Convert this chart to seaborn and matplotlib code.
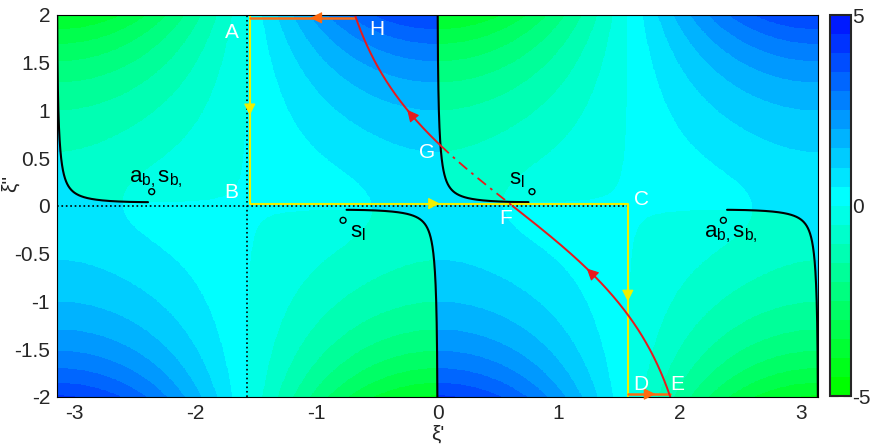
import numpy as np
import matplotlib
matplotlib.use("Agg")
import matplotlib.pyplot as plt
import seaborn as sns
from matplotlib.colors import ListedColormap, BoundaryNorm

sns.set_style("white")
plt.rcParams["font.family"] = ["Liberation Sans", "DejaVu Sans"]
plt.rcParams["mathtext.fontset"] = "custom"
plt.rcParams["mathtext.rm"] = "Liberation Sans"
plt.rcParams["mathtext.it"] = "Liberation Sans"
plt.rcParams["axes.unicode_minus"] = False

# ---------------- data ----------------
xi_lim = [-np.pi, np.pi]
eta_lim = [-2.0, 2.0]
n2_real = 0.53          # squared index ratio of the medium (branch points at cos(xi)=n)
n2_loss = 0.04          # small loss -> hyperbolic branch cuts
field_scale = 1.1       # scale of -Im(kz) shown in colour
saddle_xi = 0.62        # saddle point F on the real axis
cut_cross_eta = 0.63    # where the SDP crosses the branch cut (G)

x_ticks = [-3, -2, -1, 0, 1, 2, 3]
y_ticks = [-2, -1.5, -1, -0.5, 0, 0.5, 1, 1.5, 2]
y_tick_labels = ["-2", "-1.5", "-1", "-0.5", "0", "0.5", "1", "1.5", "2"]
cbar_ticks = [-5, 0, 5]
levels = np.arange(-5, 5.01, 0.5)

point_names = ["A", "B", "C", "D", "E", "F", "G", "H"]
point_x = [-1.70, -1.70, 1.68, 1.68, 1.98, 0.56, -0.085, -0.50]
point_y = [1.82, 0.14, 0.07, -1.87, -1.87, -0.13, 0.56, 1.85]

marker_x = [-2.36, 0.78, -0.78, 2.36]
marker_y = [0.15, 0.15, -0.15, -0.15]

label_texts = [r"a$_\mathregular{b,}$s$_\mathregular{b,}$", r"s$_\mathregular{l}$",
               r"s$_\mathregular{l}$", r"a$_\mathregular{b,}$s$_\mathregular{b,}$"]
label_x = [-2.55, 0.59, -0.72, 2.20]
label_y = [0.25, 0.23, -0.33, -0.33]

yellow_x = [-1.55, -1.55, 1.571, 1.571]
yellow_y = [2.0, 0.025, 0.025, -2.0]
orange_top_x = [-0.68, -1.55]
orange_top_y = [1.97, 1.97]
orange_bot_x = [1.571, 1.92]
orange_bot_y = [-1.97, -1.97]

yellow_arrow_x = [-1.55, 0.0, 1.571]
yellow_arrow_y = [0.97, 0.025, -0.98]
yellow_arrow_dir = [(0, -1), (1, 0), (0, -1)]
orange_arrow_x = [-1.03, 1.78]
orange_arrow_y = [1.97, -1.97]
orange_arrow_dir = [(-1, 0), (1, 0)]
red_arrow_eta = [0.99, -0.67]

# ---------------- field ----------------
xg = np.linspace(xi_lim[0], xi_lim[1], 1400)
yg = np.linspace(eta_lim[0], eta_lim[1], 900)
X, Y = np.meshgrid(xg, yg)
xi = X + 1j * Y
n2 = n2_real - 1j * n2_loss
kz = np.sqrt(n2 - np.cos(xi) ** 2)
field = np.clip(-field_scale * kz.imag, -4.999, 4.999)

# each band takes the colour of its lower level (green -> cyan -> blue)
cols = []
nb = len(levels) - 1
for i in range(nb):
    v = i / nb
    if v < 0.5:
        cols.append((0.0, 1.0, 2 * v))
    else:
        cols.append((0.0, 2 - 2 * v, 1.0))
cmap = ListedColormap(cols)
norm = BoundaryNorm(levels, cmap.N)

fig = plt.figure(figsize=(8.72, 4.46), dpi=100)
ax = fig.add_axes([0.0654, 0.1099, 0.8727, 0.8565])
cax = fig.add_axes([0.952, 0.112, 0.024, 0.854])

mesh = ax.pcolormesh(xg, yg, field, cmap=cmap, norm=norm, shading="nearest", rasterized=True)

# branch cuts
x_lo = 0.5 * np.arcsin(2 * n2_loss / np.sinh(4.0))
xc = np.geomspace(x_lo, 0.80, 800)
yc = 0.5 * np.arcsinh(2 * n2_loss / np.sin(2 * xc))
keep = (n2 - np.cos(xc + 1j * yc) ** 2).real < 0
xc, yc = xc[keep], yc[keep]
for cx, cy in [(xc, yc), (-xc, -yc), (xc - np.pi, yc), (np.pi - xc, -yc)]:
    sns.lineplot(x=cx, y=cy, ax=ax, sort=False, color="black", lw=1.5, estimator=None)

# dotted axes lines
ax.plot([-np.pi / 2, -np.pi / 2], [-2, 2], color="black", ls=":", lw=1.2)
ax.plot([-np.pi, np.pi / 2], [0, 0], color="black", ls=":", lw=1.2)

# yellow original path and orange closing segments
ax.plot(yellow_x, yellow_y, color="#f0f000", lw=1.5)
ax.plot(orange_top_x, orange_top_y, color="#ff6a10", lw=1.8)
ax.plot(orange_bot_x, orange_bot_y, color="#ff6a10", lw=1.8)

# steepest descent path
eta_s = np.linspace(2, -2, 1601)
xi_s = saddle_xi - np.sign(eta_s) * np.arccos(1 / np.cosh(eta_s))
m1 = eta_s >= cut_cross_eta
m2 = (eta_s <= cut_cross_eta) & (eta_s >= 0)
m3 = eta_s <= 0
ax.plot(xi_s[m1], eta_s[m1], color="#e8191c", lw=1.4)
ax.plot(xi_s[m2], eta_s[m2], color="#e8191c", lw=1.3, ls=(0, (6, 3, 1.5, 3)))
ax.plot(xi_s[m3], eta_s[m3], color="#e8191c", lw=1.4)


def head(x, y, dx, dy, color):
    ax.annotate("", xy=(x + dx * 0.02, y + dy * 0.02), xytext=(x - dx * 0.02, y - dy * 0.02),
                arrowprops=dict(arrowstyle="-|>,head_length=0.6,head_width=0.3",
                                color=color, lw=0.8, mutation_scale=12,
                                shrinkA=0, shrinkB=0))


for x, y, d in zip(yellow_arrow_x, yellow_arrow_y, yellow_arrow_dir):
    head(x, y, d[0], d[1], "#f0f000")
for x, y, d in zip(orange_arrow_x, orange_arrow_y, orange_arrow_dir):
    head(x, y, d[0], d[1], "#ff6a10")
for e in red_arrow_eta:
    i = np.argmin(np.abs(eta_s - e))
    x0, y0 = xi_s[i], eta_s[i]
    x1, y1 = xi_s[i - 8], eta_s[i - 8]
    d = np.array([x1 - x0, y1 - y0])
    d = d / np.hypot(*d)
    head(x0, y0, d[0], d[1], "#e8191c")

# markers and labels
sns.scatterplot(x=marker_x, y=marker_y, ax=ax, marker="o", s=18, facecolor="none",
                edgecolor="black", linewidth=1.0, zorder=5)
for t, x, y in zip(label_texts, label_x, label_y):
    ax.text(x, y, t, color="black", fontsize=16, ha="left", va="baseline", zorder=6)
for t, x, y in zip(point_names, point_x, point_y):
    ax.text(x, y, t, color="white", fontsize=15, ha="center", va="center", zorder=6)

ax.set_xlim(xi_lim)
ax.set_ylim(eta_lim)
ax.set_xticks(x_ticks)
ax.set_xticklabels([str(t) for t in x_ticks])
ax.set_yticks(y_ticks)
ax.set_yticklabels(y_tick_labels)
ax.tick_params(direction="in", length=4, labelsize=15, pad=5)
ax.set_xlabel("ξ'", fontsize=15, labelpad=1)
ax.set_ylabel("ξ''", fontsize=15, labelpad=2)
ax.yaxis.set_label_coords(-0.049, 0.56)
for s in ax.spines.values():
    s.set_linewidth(0.8)
    s.set_color("black")

cb = fig.colorbar(mesh, cax=cax, ticks=cbar_ticks, drawedges=False)
cb.ax.minorticks_off()
cb.ax.yaxis.set_tick_params(which="minor", length=0)
cb.solids.set_edgecolor("face")
cb.solids.set_linewidth(0)
cb.ax.set_yticklabels([str(t) for t in cbar_ticks])
cb.ax.tick_params(which="major", direction="in", left=True, right=True, length=6,
                  labelsize=15, pad=1)
cb.outline.set_linewidth(1.5)

fig.savefig("out.png", dpi=100)
